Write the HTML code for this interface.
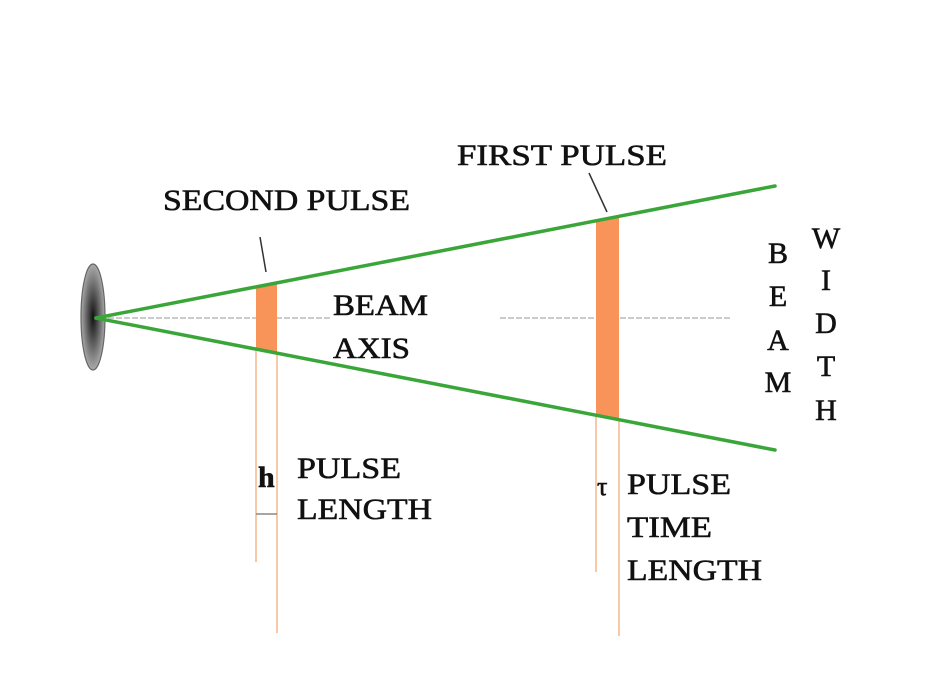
<!DOCTYPE html>
<html><head><style>html,body{margin:0;padding:0;background:#fff;}</style></head>
<body>
<svg width="927" height="670" viewBox="0 0 927 670" xmlns="http://www.w3.org/2000/svg" font-family="Liberation Serif, serif">
<defs>
<radialGradient id="g" cx="0.5" cy="0.5" r="0.5">
<stop offset="0" stop-color="#111"/><stop offset="1" stop-color="#aaa"/>
</radialGradient>
</defs>
<ellipse cx="93" cy="317" rx="12" ry="53" fill="url(#g)" stroke="#666" stroke-width="1.2"/>
<line x1="100" y1="318" x2="330" y2="318" stroke="#bbb" stroke-width="1.5" stroke-dasharray="6,2"/>
<line x1="500" y1="318" x2="730" y2="318" stroke="#bbb" stroke-width="1.5" stroke-dasharray="6,2"/>
<g stroke="#f8c9a6" stroke-width="2">
<line x1="256" y1="350" x2="256" y2="562"/>
<line x1="277" y1="352" x2="277" y2="633"/>
<line x1="596" y1="415" x2="596" y2="572"/>
<line x1="619" y1="418" x2="619" y2="636"/>
</g>
<polygon points="256,287 277,283 277,353 256,349" fill="#f89459"/>
<polygon points="596,221 619,216 619,420 596,415" fill="#f89459"/>
<g stroke="#3aa63a" stroke-width="3.5" stroke-linecap="round">
<line x1="96" y1="318" x2="775" y2="186"/>
<line x1="96" y1="318" x2="775" y2="450"/>
</g>
<line x1="260" y1="237" x2="266" y2="272" stroke="#333" stroke-width="1.5"/>
<line x1="589" y1="173" x2="607" y2="212" stroke="#333" stroke-width="1.5"/>
<line x1="256" y1="514" x2="277" y2="514" stroke="#888" stroke-width="1.5"/>
<g font-size="30" fill="#111" stroke="#111" stroke-width="0.6">
<text x="163" y="210" textLength="247" lengthAdjust="spacingAndGlyphs">SECOND PULSE</text>
<text x="457" y="165" textLength="210" lengthAdjust="spacingAndGlyphs">FIRST PULSE</text>
<text x="333" y="315" textLength="95" lengthAdjust="spacingAndGlyphs">BEAM</text>
<text x="333" y="358" textLength="77" lengthAdjust="spacingAndGlyphs">AXIS</text>
<text x="297" y="478" textLength="104" lengthAdjust="spacingAndGlyphs">PULSE</text>
<text x="297" y="519" textLength="135" lengthAdjust="spacingAndGlyphs">LENGTH</text>
<text x="627" y="494" textLength="104" lengthAdjust="spacingAndGlyphs">PULSE</text>
<text x="627" y="537" textLength="85" lengthAdjust="spacingAndGlyphs">TIME</text>
<text x="627" y="580" textLength="135" lengthAdjust="spacingAndGlyphs">LENGTH</text>
<text x="258" y="487" font-weight="bold" font-size="30">h</text>
<text x="597" y="495" font-size="26">τ</text>
<g text-anchor="middle">
<text x="778" y="263">B</text>
<text x="778" y="306">E</text>
<text x="778" y="350">A</text>
<text x="778" y="392">M</text>
<text x="826" y="248">W</text>
<text x="826" y="290">I</text>
<text x="826" y="333">D</text>
<text x="826" y="376">T</text>
<text x="826" y="420">H</text>
</g>
</g>
</svg>
</body></html>
